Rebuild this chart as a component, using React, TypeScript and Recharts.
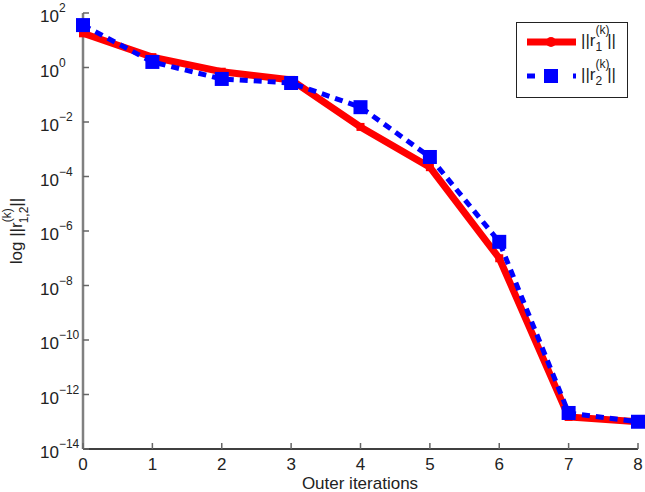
import React from 'react';
import { LineChart, Line, XAxis, YAxis, Legend } from 'recharts';

const iterations = [0, 1, 2, 3, 4, 5, 6, 7, 8];
const r1Norm = [18, 2.4, 0.7, 0.35, 0.0066, 2.2e-4, 1e-7, 1.5e-13, 1e-13];
const r2Norm = [36, 1.6, 0.38, 0.27, 0.035, 5.2e-4, 4e-7, 2.1e-13, 1e-13];
const xTicks = [0, 1, 2, 3, 4, 5, 6, 7, 8];
const yExponents = [2, 0, -2, -4, -6, -8, -10, -12, -14];
const yTicks = yExponents.map((e) => Math.pow(10, e));

const data = iterations.map((x, i) => ({ x, r1: r1Norm[i], r2: r2Norm[i] }));

const FONT = '"Liberation Sans", Arial, sans-serif';
const TICK_COLOR = '#666';

const expOf = (v: number) => Math.round(Math.log10(v));
const fmtExp = (e: number) => (e < 0 ? `\u2212${Math.abs(e)}` : `${e}`);

const BottomTick = (props: any) => {
    const { x, y, payload } = props;
    return (
        <g>
            <line x1={x} x2={x} y1={y} y2={y - 6} stroke={TICK_COLOR} strokeWidth={1.5} />
            <text x={x} y={y + 21} textAnchor="middle" fontSize={17} fill="#222" fontFamily={FONT}>
                {payload.value}
            </text>
        </g>
    );
};

const TopTick = (props: any) => {
    const { x, y } = props;
    return <line x1={x} x2={x} y1={y} y2={y + 6} stroke={TICK_COLOR} strokeWidth={1.5} />;
};

const LeftTick = (props: any) => {
    const { x, y, payload } = props;
    const e = expOf(payload.value);
    return (
        <g>
            <line x1={x} x2={x + 6} y1={y} y2={y} stroke={TICK_COLOR} strokeWidth={1.5} />
            <text x={40} y={y + 9} fontSize={17} fill="#222" fontFamily={FONT}>
                10
                <tspan dy={-10} fontSize={12}>{fmtExp(e)}</tspan>
            </text>
        </g>
    );
};

const RightTick = (props: any) => {
    const { x, y } = props;
    return <line x1={x} x2={x - 6} y1={y} y2={y} stroke={TICK_COLOR} strokeWidth={1.5} />;
};

const RedDot = (p: any) => (
    <rect key={`r-${p.index}`} x={p.cx - 4} y={p.cy - 4} width={8} height={8} fill="#ff0000" />
);

const BlueDot = (p: any) => (
    <rect key={`b-${p.index}`} x={p.cx - 7} y={p.cy - 7} width={14} height={14} fill="#0000ff" />
);

const NormLabel = ({ x, y, sub }: { x: number; y: number; sub: string }) => (
    <text x={x} y={y} fontSize={17} fill="#222" fontFamily={FONT}>
        ||r
        <tspan dy={-12} fontSize={12}>(k)</tspan>
        <tspan dx={-14} dy={17} fontSize={12}>{sub}</tspan>
        <tspan dx={5} dy={-5}>||</tspan>
    </text>
);

const LegendBox = () => (
    <svg width={112} height={76} style={{ display: 'block' }}>
        <rect x={0.5} y={0.5} width={111} height={75} fill="#fff" stroke="#222" strokeWidth={1} />
        <line x1={11} x2={60} y1={20} y2={20} stroke="#ff0000" strokeWidth={7} />
        <circle cx={35} cy={20} r={5} fill="#ff0000" />
        <line x1={11} x2={60} y1={54} y2={54} stroke="#0000ff" strokeWidth={5} strokeDasharray="8 15" />
        <rect x={28} y={47} width={14} height={14} fill="#0000ff" />
        <NormLabel x={65} y={24} sub="1" />
        <NormLabel x={65} y={58} sub="2" />
    </svg>
);

const YLabel = () => (
    <text
        x={0}
        y={0}
        transform="translate(22, 231) rotate(-90)"
        textAnchor="middle"
        fontSize={17}
        fill="#222"
        fontFamily={FONT}
    >
        log ||r
        <tspan dy={-11} fontSize={12}>(k)</tspan>
        <tspan dx={-15} dy={17} fontSize={12}>1,2</tspan>
        <tspan dy={-6}>||</tspan>
    </text>
);

const XLabel = () => (
    <text x={360} y={489} textAnchor="middle" fontSize={17} fill="#222" fontFamily={FONT}>
        Outer iterations
    </text>
);

export default function App() {
    return (
        <div style={{ width: 645, height: 492, background: '#fff' }}>
            <style>{'body{margin:0;}'}</style>
            <LineChart
                width={645}
                height={492}
                data={data}
                margin={{ top: 13, right: 7, bottom: 0, left: 0 }}
            >
                <XAxis
                    dataKey="x"
                    type="number"
                    domain={[0, 8]}
                    ticks={xTicks}
                    height={43}
                    tickSize={0}
                    tickMargin={0}
                    tickLine={false}
                    axisLine={{ stroke: '#000', strokeWidth: 1.5 }}
                    tick={<BottomTick />}
                    label={<XLabel />}
                />
                <XAxis
                    xAxisId="top"
                    orientation="top"
                    type="number"
                    domain={[0, 8]}
                    ticks={xTicks}
                    height={0}
                    tickSize={0}
                    tickMargin={0}
                    tickLine={false}
                    allowDataOverflow
                    axisLine={{ stroke: '#000', strokeWidth: 1 }}
                    tick={<TopTick />}
                />
                <YAxis
                    scale="log"
                    domain={[1e-14, 100]}
                    ticks={yTicks}
                    allowDataOverflow
                    width={83}
                    tickSize={0}
                    tickMargin={0}
                    tickLine={false}
                    axisLine={{ stroke: '#808080', strokeWidth: 2.5 }}
                    tick={<LeftTick />}
                    label={<YLabel />}
                />
                <YAxis
                    yAxisId="right"
                    orientation="right"
                    scale="log"
                    domain={[1e-14, 100]}
                    ticks={yTicks}
                    allowDataOverflow
                    width={0}
                    tickSize={0}
                    tickMargin={0}
                    tickLine={false}
                    axisLine={{ stroke: '#808080', strokeWidth: 2 }}
                    tick={<RightTick />}
                />
                <Legend
                    layout="horizontal"
                    verticalAlign="middle"
                    content={() => <LegendBox />}
                    wrapperStyle={{ position: 'absolute', left: 516, top: 22, width: 112, height: 76 }}
                />
                <Line
                    dataKey="r1"
                    stroke="#ff0000"
                    strokeWidth={7}
                    dot={RedDot}
                    activeDot={false}
                    isAnimationActive={false}
                />
                <Line
                    dataKey="r2"
                    stroke="#0000ff"
                    strokeWidth={5}
                    strokeDasharray="8 6"
                    dot={BlueDot}
                    activeDot={false}
                    isAnimationActive={false}
                />
            </LineChart>
        </div>
    );
}
